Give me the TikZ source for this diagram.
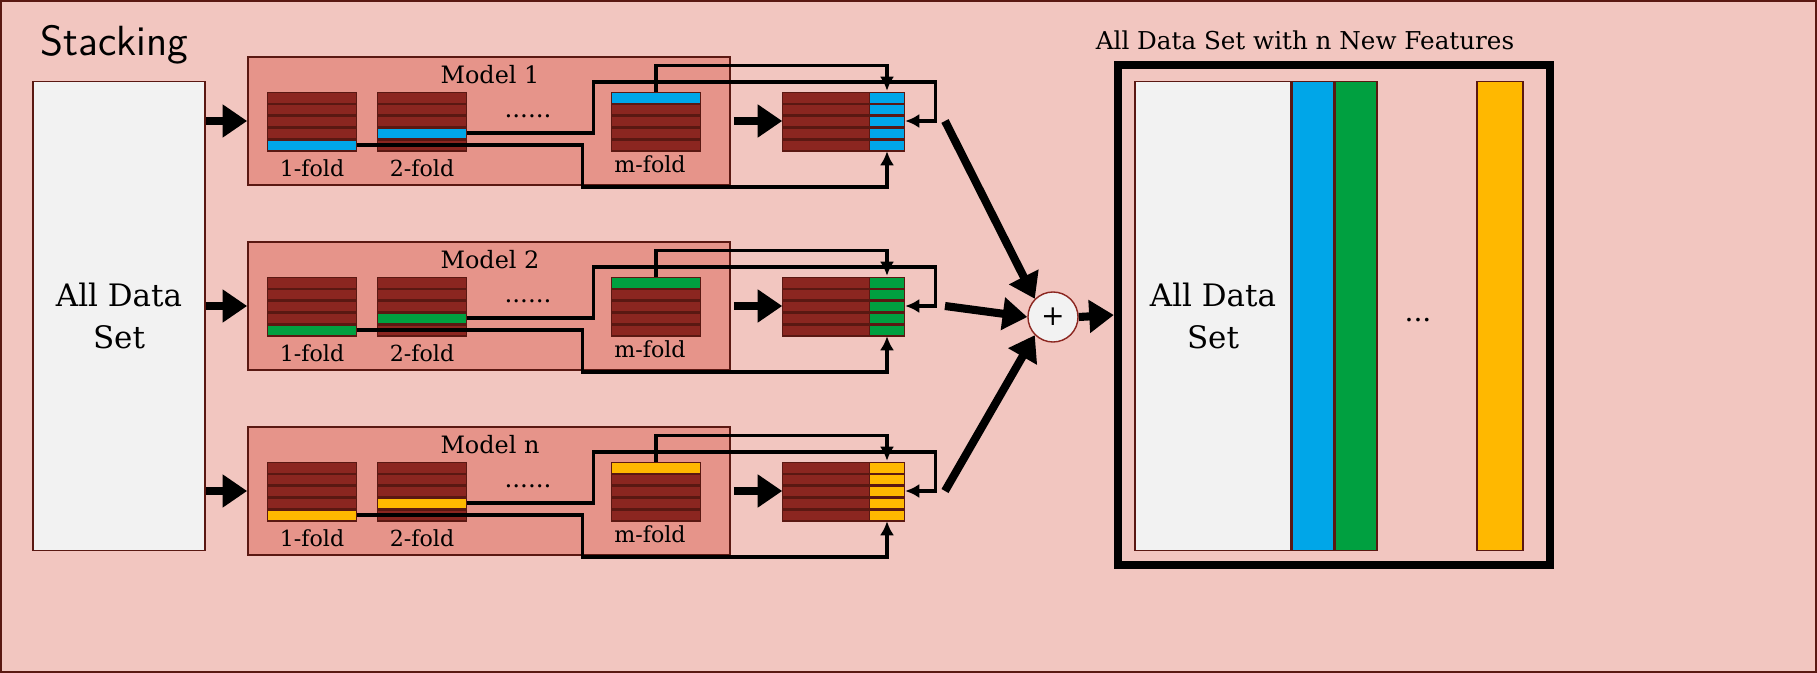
\documentclass[tikz,border=0pt]{standalone}
\usepackage{fontspec}
\setmainfont{DejaVu Serif}
\usepackage{tikz}
\usetikzlibrary{arrows.meta}

\definecolor{bgpink}{HTML}{F2C6C0}
\definecolor{modelpink}{HTML}{E6948A}
\definecolor{brickred}{HTML}{8B2620}
\definecolor{brickdark}{HTML}{5A1812}
\definecolor{lightgray}{HTML}{F2F2F2}
\definecolor{featblue}{HTML}{00A6E8}
\definecolor{featgreen}{HTML}{00A040}
\definecolor{featorange}{HTML}{FFB800}

\tikzset{
  row/.style={fill=brickred, draw=brickdark, line width=0.5pt, minimum height=0.11cm, inner sep=0pt, outer sep=0pt},
  conn/.style={line width=1.1pt, -{Latex[length=4pt,width=4pt]}},
  bigarrow/.style={line width=2.3pt, -{Triangle[length=7pt,width=9pt]}},
  lbl/.style={font=\fontsize{6.3}{7}\selectfont},
}

\begin{document}
\begin{tikzpicture}[x=0.01cm, y=-0.01cm]
    \useasboundingbox (0,0) rectangle (1817,673);
    \draw[fill=bgpink, draw=brickdark, line width=0.8pt] (1,1) rectangle (1816,672);
    \node[anchor=west, font=\fontsize{12}{14}\selectfont\sffamily] (title) at (28,45) {Stacking};

    % linke Spalte
    \node[draw=brickdark, fill=lightgray, minimum width=1.72cm, minimum height=4.69cm, align=center,
          font=\fontsize{8.8}{12}\selectfont] (data) at (119,316) {All Data\\Set};

    % drei Modelle
    \foreach \k/\o/\c/\name in {1/0/featblue/1, 2/185/featgreen/2, 3/370/featorange/n}{
        \node[draw=brickdark, fill=modelpink, minimum width=4.82cm, minimum height=1.28cm, inner sep=0pt] (model-\k) at (489,121+\o) {};
        \node[lbl, font=\fontsize{6.8}{8}\selectfont] (mt-\k) at (490,75+\o) {Model \name};
        \draw[bigarrow] (data.east |- model-\k) -- (model-\k.west);

        % Folds
        \foreach \x/\f/\hi in {312/1/4, 422/2/3, 656/m/0}{
            \foreach \r in {0,...,4}{
                \ifnum\r=\hi
                    \node[row, fill=\c, minimum width=0.89cm] (r\f-\k) at (\x,98+\o+\r*11.8) {};
                \else
                    \node[row, minimum width=0.89cm] at (\x,98+\o+\r*11.8) {};
                \fi
            }
        }
        \node[lbl] (l1-\k) at (312,168+\o) {1-fold};
        \node[lbl] (l2-\k) at (422,168+\o) {2-fold};
        \node[lbl] (lm-\k) at (650,164+\o) {m-fold};
        \node[lbl, font=\fontsize{7}{8}\selectfont] (dots-\k) at (528,116+\o) {......};

        % Ergebnis
        \foreach \r in {0,...,4}{
            \node[row, minimum width=0.87cm] at (826,98+\o+\r*11.8) {};
            \node[row, fill=\c, minimum width=0.35cm] at (887,98+\o+\r*11.8) {};
        }
        \node[minimum width=0.35cm, minimum height=0.59cm, inner sep=0pt] (col-\k) at (887,121+\o) {};
        \node[minimum width=1.22cm, minimum height=0.59cm, inner sep=0pt] (res-\k) at (844,121+\o) {};
        \draw[bigarrow] (model-\k.east |- res-\k) ++(3,0) -- (res-\k.west);

        \draw[conn] (rm-\k.north) -- ++(0,-27) -| (col-\k.north);
        \draw[conn] (r2-\k.east) -| ++(127,-51) -- ++(342,0) |- (col-\k.east);
        \draw[conn] (r1-\k.east) -| ++(226,42) -| (col-\k.south);
        \coordinate (out-\k) at (945,121+\o);
    }

    % Kombination
    \node[circle, draw=brickred, fill=lightgray, minimum size=0.5cm, inner sep=0pt, font=\fontsize{8}{9}\selectfont] (plus) at (1053,317) {+};
    \draw[bigarrow] (out-1) -- (plus.north west);
    \draw[bigarrow] (out-2) -- (plus.west);
    \draw[bigarrow] (out-3) -- (plus.south west);

    % Ergebnis rechts
    \node[draw=black, line width=2.3pt, minimum width=4.32cm, minimum height=5cm, inner sep=0pt] (all) at (1334,315) {};
    \node[lbl, font=\fontsize{7}{8}\selectfont] (alltitle) at (1305,40) {All Data Set with n New Features};
    \draw[bigarrow] (plus.east) -- (all.west);
    \node[draw=brickdark, fill=lightgray, minimum width=1.56cm, minimum height=4.69cm, align=center, inner sep=0pt,
          font=\fontsize{8.8}{12}\selectfont] (newdata) at (1213,316) {All Data\\Set};
    \node[draw=brickdark, fill=featblue, minimum width=0.41cm, minimum height=4.69cm, inner sep=0pt, anchor=west] (nb) at (newdata.east) {};
    \node[draw=brickdark, fill=featgreen, minimum width=0.42cm, minimum height=4.69cm, inner sep=0pt, anchor=west] (ng) at (nb.east) {};
    \node[font=\fontsize{8}{9}\selectfont] (ndots) at (1418,320) {...};
    \node[draw=brickdark, fill=featorange, minimum width=0.46cm, minimum height=4.69cm, inner sep=0pt] (no) at (1500,316) {};
\end{tikzpicture}
\end{document}
